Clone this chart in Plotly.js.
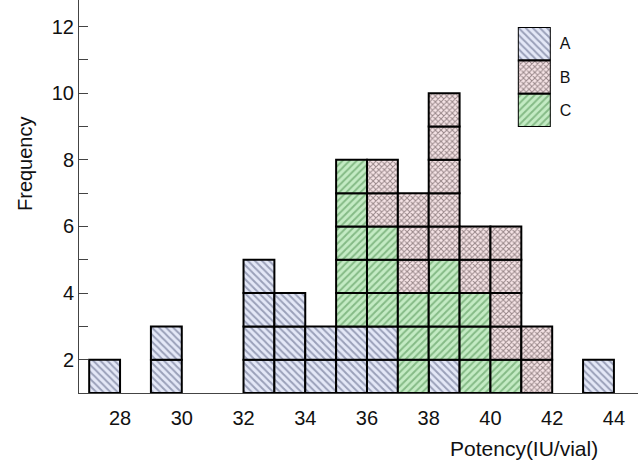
<!DOCTYPE html>
<html>
<head>
<meta charset="utf-8">
<script src="https://cdn.plot.ly/plotly-3.0.1.min.js"></script>
<style>html,body{margin:0;padding:0;background:#fff;}#chart{width:638px;height:468px;}</style>
</head>
<body>
<div id="chart"></div>
<script>
// ---- data ----
const binStart = [27, 29, 32, 33, 34, 35, 36, 37, 38, 39, 40, 41, 43];
const countA   = [1, 2, 4, 3, 2, 2, 2, 0, 1, 0, 0, 0, 1];
const countC   = [0, 0, 0, 0, 0, 5, 3, 3, 3, 3, 1, 0, 0];
const countB   = [0, 0, 0, 0, 0, 0, 2, 3, 5, 2, 4, 2, 0];
const seriesNames = ['A', 'B', 'C'];
const stackOrder = ['A', 'C', 'B'];
const xTickVals = [28, 30, 32, 34, 36, 38, 40, 42, 44];
const yTickVals = [2, 4, 6, 8, 10, 12];
const xTitle = 'Potency(IU/vial)';
const yTitle = 'Frequency';

// ---- styles ----
const counts = {A: countA, B: countB, C: countC};
const styles = {
  A: {shape: '\\', bg: '#e4e8f7', fg: '#50587a', size: 5, solidity: 0.4},
  B: {shape: 'x',  bg: '#f6e4e6', fg: '#3a2a2c', size: 4, solidity: 0.45},
  C: {shape: '/',  bg: '#c4ebc4', fg: '#458a48', size: 5, solidity: 0.4}
};
const yBase = 1;
const font = 'Liberation Sans, Arial, sans-serif';

const traces = [];
const cum = binStart.map(() => 0);
stackOrder.forEach(name => {
  const xs = [], bases = [], ys = [];
  counts[name].forEach((c, i) => {
    for (let k = 0; k < c; k++) {
      xs.push(binStart[i] + 0.5);
      bases.push(yBase + cum[i] + k);
      ys.push(1);
    }
    cum[i] += c;
  });
  const s = styles[name];
  traces.push({
    type: 'bar', name: name, x: xs, y: ys, base: bases, width: 1,
    marker: {color: s.bg, line: {color: '#000', width: 2},
             pattern: {shape: s.shape, bgcolor: s.bg, fgcolor: s.fg, size: s.size, solidity: s.solidity, fillmode: 'overlay'}},
    showlegend: false, hoverinfo: 'skip', xaxis: 'x', yaxis: 'y'
  });
});
// legend drawn as a tiny bar chart
seriesNames.forEach(name => {
  const s = styles[name];
  traces.push({
    type: 'bar', orientation: 'h', x: [1], y: [name], width: 1,
    marker: {color: s.bg, line: {color: '#000', width: 2},
             pattern: {shape: s.shape, bgcolor: s.bg, fgcolor: s.fg, size: s.size, solidity: s.solidity, fillmode: 'overlay'}},
    showlegend: false, hoverinfo: 'skip', xaxis: 'x2', yaxis: 'y2'
  });
});

const layout = {
  width: 638, height: 468,
  margin: {l: 79, r: 0, t: 0, b: 75},
  paper_bgcolor: '#fff', plot_bgcolor: '#fff',
  barmode: 'overlay', bargap: 0,
  font: {family: font, color: '#111', size: 20},
  showlegend: false,
  xaxis: {
    range: [26.67, 44.78], showgrid: false, zeroline: false,
    showline: true, linecolor: '#444', linewidth: 1,
    ticks: '', tickvals: xTickVals, ticktext: xTickVals.map(String),
    tickfont: {size: 20, family: font, color: '#111'}, ticklabelstandoff: 7
  },
  yaxis: {
    range: [yBase, 12.8], showgrid: false, zeroline: false,
    showline: true, linecolor: '#444', linewidth: 1,
    ticks: 'inside', ticklen: 9, tickcolor: '#444', tickwidth: 1,
    tickvals: yTickVals, ticktext: yTickVals.map(String),
    minor: {ticks: 'inside', dtick: 1, ticklen: 9, tickcolor: '#444', tickwidth: 1, showgrid: false},
    tickfont: {size: 20, family: font, color: '#111'}, ticklabelstandoff: 0
  },
  xaxis2: {domain: [0.785, 0.844], range: [0, 1], anchor: 'y2', visible: false, fixedrange: true},
  yaxis2: {domain: [0.677, 0.931], anchor: 'x2', side: 'right', type: 'category',
           categoryorder: 'array', categoryarray: seriesNames.slice().reverse(),
           showline: false, showgrid: false, zeroline: false, ticks: '',
           tickfont: {size: 16, family: font, color: '#111'}, ticklabelstandoff: 8},
  annotations: [
    {text: xTitle, xref: 'paper', yref: 'paper', x: (524 - 79) / 559, y: -(448 - 393) / 393,
     xanchor: 'center', yanchor: 'middle', showarrow: false, font: {size: 21, family: font, color: '#111'}},
    {text: yTitle, xref: 'paper', yref: 'paper', x: (25 - 79) / 559, y: (393 - 164) / 393, textangle: -90,
     xanchor: 'center', yanchor: 'middle', showarrow: false, font: {size: 20, family: font, color: '#111'}}
  ]
};

Plotly.newPlot('chart', traces, layout, {displayModeBar: false, staticPlot: true});
</script>
</body>
</html>
